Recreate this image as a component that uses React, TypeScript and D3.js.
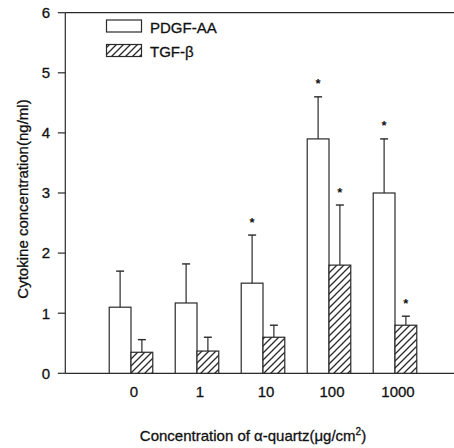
import React, { useEffect, useRef } from 'react';
import * as d3 from 'd3';

// concentrations of alpha-quartz (ug/cm2)
const categories = ['0', '1', '10', '100', '1000'];
const seriesNames = ['PDGF-AA', 'TGF-β'];

// mean values (ng/ml)
const pdgfValues = [1.1, 1.17, 1.5, 3.9, 3.0];
const tgfValues = [0.35, 0.37, 0.6, 1.8, 0.8];

// upper error (mean + SD)
const pdgfErrorTop = [1.7, 1.82, 2.3, 4.6, 3.9];
const tgfErrorTop = [0.56, 0.6, 0.8, 2.8, 0.95];

// significance markers
const pdgfSignificant = [false, false, true, true, true];
const tgfSignificant = [false, false, false, true, true];

const yTicks = [0, 1, 2, 3, 4, 5, 6];

const W = 454;
const H = 448;
const FONT = 'Arial, "Liberation Sans", sans-serif';
const INK = '#2a2a2a';

export default function App() {
  const svgRef = useRef<SVGSVGElement>(null);

  useEffect(() => {
    if (!svgRef.current) return;
    const svg = d3.select(svgRef.current);
    svg.selectAll('*').remove();

    const axisX = 65.3;
    const y = d3.scaleLinear().domain([0, 6]).range([373.3, 12.7]);

    const x = d3.scaleBand<string>()
      .domain(categories)
      .range([98, 428])
      .paddingInner(0.34)
      .paddingOuter(0.17);

    const xInner = d3.scaleBand<string>()
      .domain(seriesNames)
      .range([0, x.bandwidth()]);

    // hatch pattern
    const defs = svg.append('defs');
    const pat = defs.append('pattern')
      .attr('id', 'hatch')
      .attr('patternUnits', 'userSpaceOnUse')
      .attr('width', 7)
      .attr('height', 7);
    pat.append('rect').attr('width', 7).attr('height', 7).attr('fill', '#fff');
    pat.append('path')
      .attr('d', 'M-1,8 L8,-1 M-4.5,4.5 L4.5,-4.5 M2.5,11.5 L11.5,2.5')
      .attr('stroke', INK)
      .attr('stroke-width', 1.3);

    const g = svg.append('g');

    const label = (sel: any) => sel
      .attr('font-family', FONT)
      .attr('font-size', 15)
      .attr('fill', '#111')
      .attr('stroke', '#111')
      .attr('stroke-width', 0.3);

    // frame: left axis, top line, baseline
    g.append('line')
      .attr('x1', axisX).attr('x2', axisX)
      .attr('y1', y(6)).attr('y2', y(0))
      .attr('stroke', INK).attr('stroke-width', 1.2);
    g.append('line')
      .attr('x1', axisX).attr('x2', W)
      .attr('y1', y(6)).attr('y2', y(6))
      .attr('stroke', INK).attr('stroke-width', 1.2);
    g.append('line')
      .attr('x1', axisX).attr('x2', W)
      .attr('y1', y(0)).attr('y2', y(0))
      .attr('stroke', INK).attr('stroke-width', 1.2);

    // y ticks
    yTicks.forEach(t => {
      g.append('line')
        .attr('x1', axisX - 7.5).attr('x2', axisX)
        .attr('y1', y(t)).attr('y2', y(t))
        .attr('stroke', INK).attr('stroke-width', 1.2);
      g.append('text')
        .attr('x', 50)
        .attr('y', y(t) + 5.3)
        .attr('text-anchor', 'end')
        .call(label)
        .text(t);
    });

    // bars
    const series = [
      { name: seriesNames[0], values: pdgfValues, err: pdgfErrorTop, sig: pdgfSignificant, fill: '#fff' },
      { name: seriesNames[1], values: tgfValues, err: tgfErrorTop, sig: tgfSignificant, fill: 'url(#hatch)' },
    ];

    series.forEach(s => {
      categories.forEach((c, i) => {
        const bx = (x(c) ?? 0) + (xInner(s.name) ?? 0);
        const bw = xInner.bandwidth();
        const cx = bx + bw / 2;
        g.append('rect')
          .attr('x', bx).attr('y', y(s.values[i]))
          .attr('width', bw).attr('height', y(0) - y(s.values[i]))
          .attr('fill', s.fill)
          .attr('stroke', INK).attr('stroke-width', 1.2);
        // error bar
        g.append('line')
          .attr('x1', cx).attr('x2', cx)
          .attr('y1', y(s.values[i])).attr('y2', y(s.err[i]))
          .attr('stroke', INK).attr('stroke-width', 1.2);
        g.append('line')
          .attr('x1', cx - 4).attr('x2', cx + 4)
          .attr('y1', y(s.err[i])).attr('y2', y(s.err[i]))
          .attr('stroke', INK).attr('stroke-width', 1.4);
        if (s.sig[i]) {
          g.append('text')
            .attr('x', cx)
            .attr('y', y(s.err[i]) - 8.5)
            .attr('text-anchor', 'middle')
            .attr('font-family', FONT)
            .attr('font-size', 13)
            .attr('font-weight', 'bold')
            .attr('fill', '#111')
            .text('*');
        }
      });
    });

    // x tick labels
    categories.forEach(c => {
      g.append('text')
        .attr('x', (x(c) ?? 0) + x.bandwidth() / 2 + 3)
        .attr('y', 397)
        .attr('text-anchor', 'middle')
        .call(label)
        .text(c);
    });

    // axis titles
    const xt = g.append('text')
      .attr('x', 253)
      .attr('y', 441)
      .attr('text-anchor', 'middle')
      .call(label);
    xt.append('tspan').text('Concentration of α-quartz(μg/cm');
    xt.append('tspan').attr('font-size', 10).attr('dy', -6).text('2');
    xt.append('tspan').attr('dy', 6).text(')');

    g.append('text')
      .attr('transform', `translate(28,199) rotate(-90)`)
      .attr('text-anchor', 'middle')
      .call(label)
      .text('Cytokine concentration(ng/ml)');

    // legend
    const legendRows = [
      { name: seriesNames[0], fill: '#fff', y: 20 },
      { name: seriesNames[1], fill: 'url(#hatch)', y: 44.5 },
    ];
    legendRows.forEach(r => {
      g.append('rect')
        .attr('x', 106.5).attr('y', r.y)
        .attr('width', 35).attr('height', 12)
        .attr('fill', r.fill)
        .attr('stroke', INK).attr('stroke-width', 1.2);
      g.append('text')
        .attr('x', 150)
        .attr('y', r.y + 12.5)
        .call(label)
        .text(r.name);
    });
  }, []);

  return (
    <div style={{ position: 'absolute', left: 0, top: 0, width: W, height: H, background: '#fff' }}>
      <svg ref={svgRef} width={W} height={H} style={{ display: 'block' }} />
    </div>
  );
}
